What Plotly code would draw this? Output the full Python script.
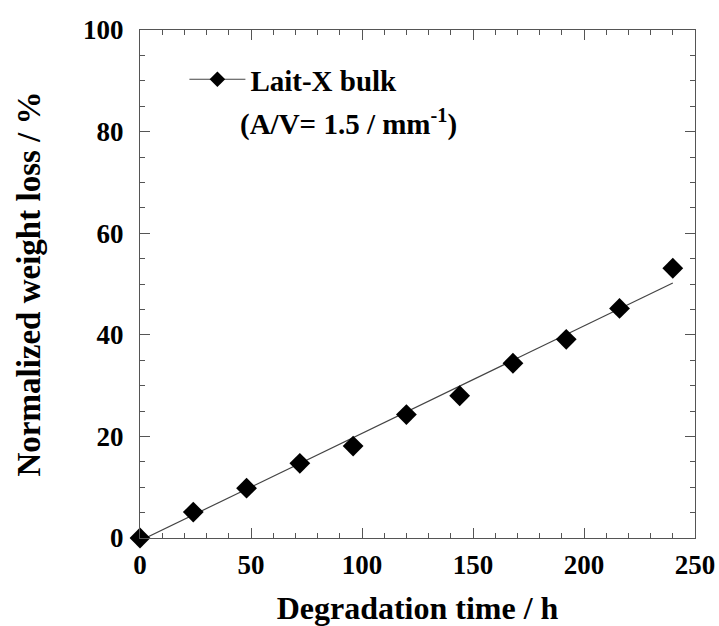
import plotly.graph_objects as go

# Data
time_h = [0, 24, 48, 72, 96, 120, 144, 168, 192, 216, 240]
weight_loss = [0, 5.1, 9.8, 14.7, 18.1, 24.3, 28.0, 34.4, 39.1, 45.2, 53.1]
fit_x = [2.5, 240]
fit_y = [0, 50.2]
series_name = "Lait-X bulk"
series_note = "(A/V= 1.5 / mm<sup>-1</sup>)"

FONT = "Liberation Serif"
def f(size):
    return dict(family=FONT, size=size, color="black", weight="bold")

fig = go.Figure()
fig.add_trace(go.Scatter(x=fit_x, y=fit_y, mode="lines",
                         line=dict(color="#444444", width=1.2),
                         showlegend=False, hoverinfo="skip"))
fig.add_trace(go.Scatter(x=time_h, y=weight_loss, mode="markers",
                         marker=dict(symbol="diamond", size=16, color="black"),
                         cliponaxis=False, showlegend=False))
# legend entry (line + diamond symbol)
fig.add_trace(go.Scatter(x=[None], y=[None], mode="lines+markers", name=series_name,
                         line=dict(color="#444444", width=1.2),
                         marker=dict(symbol="diamond", size=12, color="black")))

axis_common = dict(
    showgrid=False, zeroline=False, showline=True, linecolor="#555555", linewidth=1.2,
    mirror="ticks", ticks="inside", tickcolor="#555555", tickwidth=1.2,
    tickfont=f(27), automargin=False,
)
fig.update_xaxes(range=[0, 250], dtick=50, ticklen=10, ticklabelstandoff=2,
                 minor=dict(dtick=10, ticks="inside", ticklen=5, tickcolor="#555555", tickwidth=1.2),
                 title=dict(text="Degradation time / h", font=f(32), standoff=20),
                 **axis_common)
fig.update_yaxes(range=[0, 100], dtick=20, ticklen=10, ticklabelstandoff=10,
                 minor=dict(dtick=5, ticks="inside", ticklen=5, tickcolor="#555555", tickwidth=1.2),
                 title=dict(text="Normalized weight loss / %", font=f(33), standoff=32),
                 **axis_common)

fig.add_annotation(xref="paper", yref="paper", x=(238 - 140) / 555, y=(538 - 122) / 508,
                   xanchor="left", yanchor="middle", showarrow=False,
                   text=series_note, font=f(29))

fig.update_layout(
    width=719, height=626,
    margin=dict(l=140, r=24, t=30, b=88),
    paper_bgcolor="white", plot_bgcolor="white",
    showlegend=True,
    legend=dict(x=0.08, y=0.953, xanchor="left", yanchor="top", bgcolor="rgba(0,0,0,0)",
                font=f(29), itemwidth=56),
)
fig.write_html("out.html")
